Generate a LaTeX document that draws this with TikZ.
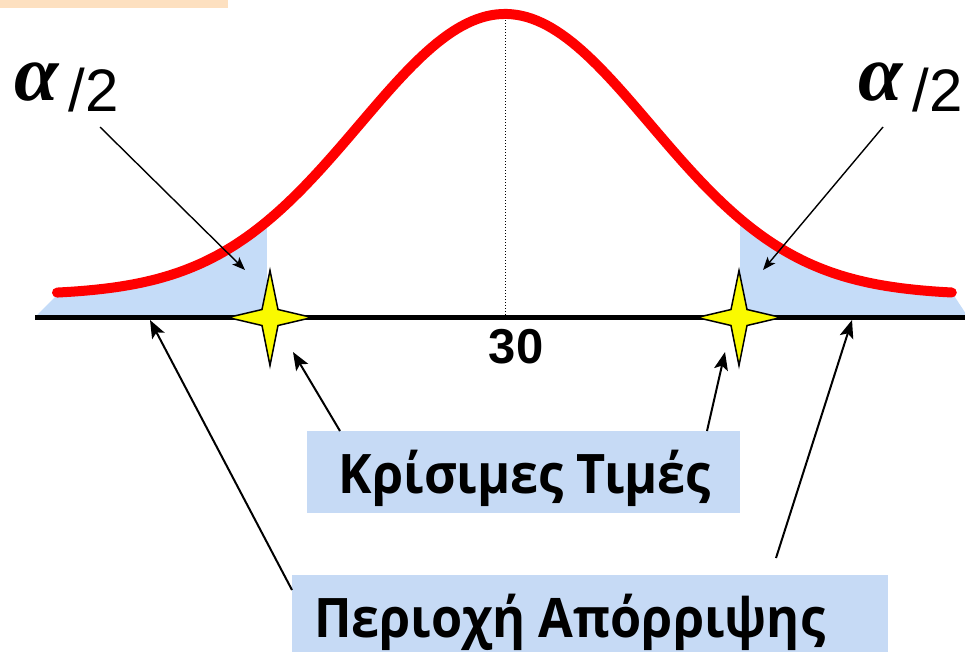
\documentclass[tikz,border=0pt]{standalone}
\usepackage{fontspec}
\setmainfont{Liberation Sans}
\newfontfamily\alphafont{Liberation Serif}
\newfontfamily\boxfont[FakeStretch=0.925]{Open Sans}
\usetikzlibrary{arrows.meta}
\definecolor{tailblue}{RGB}{197,220,248}
\definecolor{boxblue}{RGB}{198,218,245}
\definecolor{topbar}{RGB}{253,224,192}
\definecolor{curvered}{RGB}{255,0,0}
\definecolor{staryellow}{RGB}{250,250,0}
\tikzset{
  bigarrow/.style={draw, line width=2pt, -{Stealth[length=18pt,width=14pt,inset=4pt]}},
  thinarrow/.style={draw, line width=1.4pt, -{Stealth[length=13pt,width=10pt,inset=3pt]}},
  labelbox/.style={fill=boxblue, draw=none, inner sep=0pt},
  boxtext/.style={inner sep=0pt, font=\boxfont\bfseries\fontsize{54.5}{54.5}\selectfont},
  critstar/.pic={\filldraw[fill=staryellow, draw=black, line width=1.5pt, line join=miter]
     (-42,0) -- (-8,-8) -- (0,-47) -- (8,-8) -- (42,0) -- (8,8) -- (0,48) -- (-8,8) -- cycle;}
}
\begin{document}
\begin{tikzpicture}[x=1pt,y=-1pt]
\useasboundingbox (0,0) rectangle (965,651);
% top bar
\fill[topbar] (0,0) rectangle (228,8);
% tails
\fill[tailblue] (35,317) -- (57,295)
  -- plot[domain=-4.48:-2.38, samples=60] ({505+100*\x},{295-281*exp(-\x*\x/4.23)})
  -- (267,317) -- cycle;
\fill[tailblue] (740,317)
  -- plot[domain=2.35:4.47, samples=60] ({505+100*\x},{295-281*exp(-\x*\x/4.23)})
  -- (968,317) -- cycle;
% center dotted line
\draw[line width=1pt, dotted] (505,14) -- (505,317);
% curve
\draw[curvered, line width=10pt, line cap=round, line join=round]
  plot[domain=-4.48:4.47, samples=180] ({505+100*\x},{295-281*exp(-\x*\x/4.23)});
% axis
\draw[line width=5pt] (35,317) -- (968,317);
% stars
\pic at (270,317.5) {critstar};
\pic at (739,317.5) {critstar};
% alpha labels
\node[anchor=base west, inner sep=0pt] (alphaL) at (14,111)
  {{\alphafont\bfseries\itshape\fontsize{80}{80}\selectfont\raisebox{11pt}{α}}\hspace{10pt}{\fontsize{60}{60}\selectfont/2}};
\node[anchor=base west, inner sep=0pt] (alphaR) at (858,111)
  {{\alphafont\bfseries\itshape\fontsize{80}{80}\selectfont\raisebox{11pt}{α}}\hspace{10pt}{\fontsize{60}{60}\selectfont/2}};
\coordinate (aLs) at (100,127);
\coordinate (aLe) at (245,270);
\coordinate (aRs) at (883,127);
\coordinate (aRe) at (763,270);
\draw[thinarrow] (aLs) -- (aLe);
\draw[thinarrow] (aRs) -- (aRe);
% 30
\node[anchor=base, inner sep=0pt, font=\bfseries\fontsize{49}{49}\selectfont] (mid) at (516,363) {30};
% boxes
\node[labelbox, minimum width=433pt, minimum height=82pt] (crit) at (523.5,472) {};
\node[boxtext, anchor=base] (critT) at (525,493) {Κρίσιμες Τιμές};
\node[labelbox, minimum width=596pt, minimum height=90pt] (rej) at (590,620) {};
\node[boxtext, anchor=base west] (rejT) at (314,637) {Περιοχή Απόρριψης};
% arrows to stars
\coordinate (cLs) at (340,431);
\coordinate (cLe) at (293,352);
\coordinate (cRs) at (707,431);
\coordinate (cRe) at (725,352);
\draw[bigarrow] (cLs) -- (cLe);
\draw[bigarrow] (cRs) -- (cRe);
% arrows to rejection region
\coordinate (rLs) at (292,590);
\coordinate (rLe) at (150,320);
\coordinate (rRs) at (776,558);
\coordinate (rRe) at (852,320);
\draw[bigarrow] (rLs) -- (rLe);
\draw[bigarrow] (rRs) -- (rRe);
\end{tikzpicture}
\end{document}
